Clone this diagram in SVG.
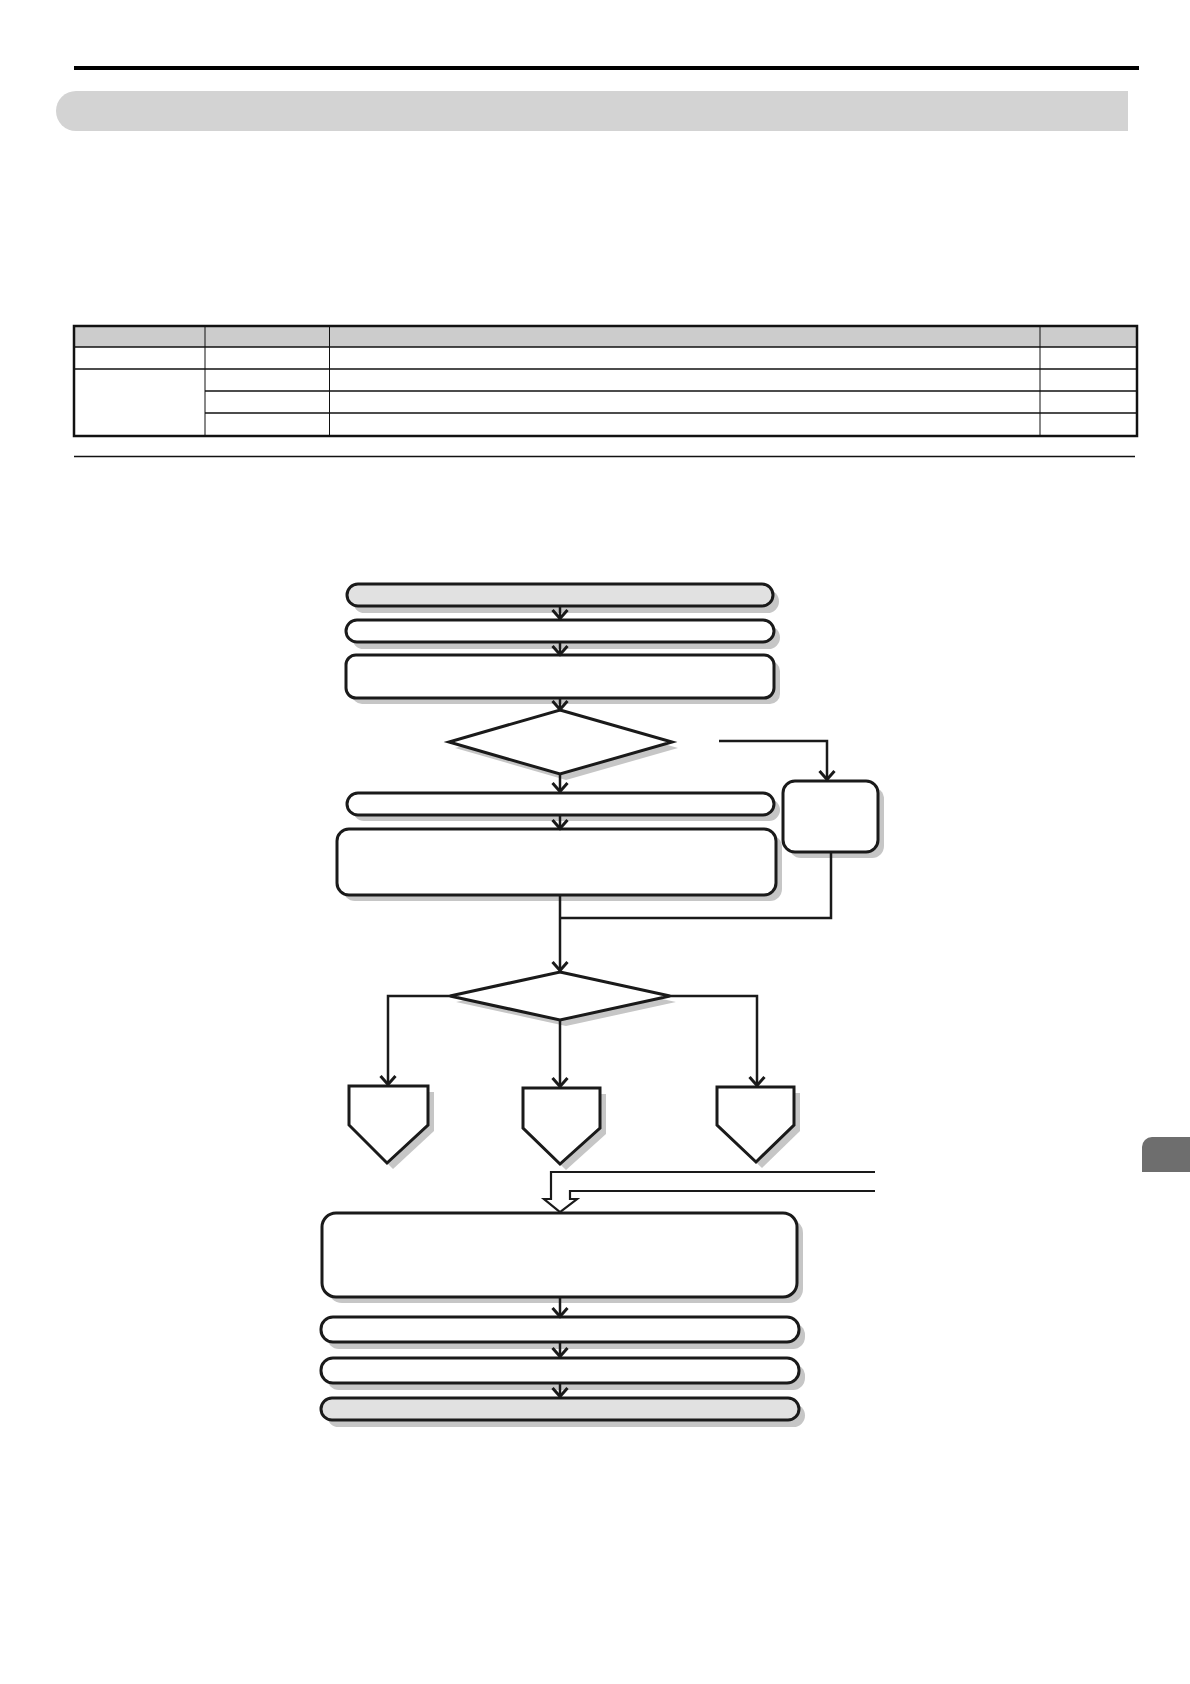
<svg xmlns="http://www.w3.org/2000/svg" width="1190" height="1684" viewBox="0 0 1190 1684">
<style>
.sh{fill:#c6c6c6;stroke:none}
.nd{fill:#ffffff;stroke:#1a1a1a;stroke-width:3}
.gr{fill:#e1e1e1;stroke:#1a1a1a;stroke-width:3}
.cn{fill:none;stroke:#1a1a1a;stroke-width:2.5}
.hl{fill:#ffffff;stroke:#1a1a1a;stroke-width:2.2;stroke-linejoin:miter}
.tb{stroke:#111;fill:none}
</style>
<defs>
<marker id="ah" viewBox="-11 -10 13 20" refX="0.5" refY="0" markerWidth="13" markerHeight="20" markerUnits="userSpaceOnUse" orient="auto">
<path d="M-8.5,-7.5 L0,0 L-8.5,7.5" fill="none" stroke="#1a1a1a" stroke-width="3"/>
</marker>
</defs>
<rect width="1190" height="1684" fill="#ffffff"/>
<g id="header">
<rect x="74" y="66" width="1065" height="4" fill="#000"/>
<path d="M76,91 H1128 V131 H76 A20,20 0 0 1 76,91 Z" fill="#d3d3d3"/>
</g>
<g id="table">
<rect x="74" y="326" width="1064" height="21" fill="#cccccc"/>
<line class="tb" x1="74" y1="347" x2="1138" y2="347" stroke-width="1.6"/>
<line class="tb" x1="74" y1="369" x2="1138" y2="369" stroke-width="1.6"/>
<line class="tb" x1="205" y1="391" x2="1138" y2="391" stroke-width="1.4"/>
<line class="tb" x1="205" y1="413" x2="1138" y2="413" stroke-width="1.4"/>
<line class="tb" x1="205" y1="326" x2="205" y2="436" stroke-width="1"/>
<line class="tb" x1="329.5" y1="326" x2="329.5" y2="436" stroke-width="1"/>
<line class="tb" x1="1040" y1="326" x2="1040" y2="436" stroke-width="1"/>
<rect class="tb" x="74" y="326" width="1063" height="110" stroke-width="2.5"/>
<line class="tb" x1="74" y1="456.5" x2="1135" y2="456.5" stroke-width="1.5"/>
</g>
<g id="side-tab">
<path d="M1152,1137 H1190 V1172 H1142 V1147 A10,10 0 0 1 1152,1137 Z" fill="#6e6e6e"/>
</g>
<g id="n1">
<rect class="sh" x="353" y="590" width="426" height="23" rx="11.5"/>
<rect class="gr" x="347" y="584" width="426" height="22" rx="11"/>
</g>
<g id="n2">
<rect class="sh" x="352" y="626" width="428" height="23" rx="11.5"/>
<rect class="nd" x="346" y="620" width="428" height="22" rx="11"/>
</g>
<g id="n3">
<rect class="sh" x="352" y="661" width="428" height="43" rx="10"/>
<rect class="nd" x="346" y="655" width="428" height="43" rx="10"/>
</g>
<g id="d1">
<polygon class="sh" points="566,716 678,748 566,780 455,748"/>
<polygon class="nd" points="560,710 672,742 560,774 449,742"/>
</g>
<g id="n4">
<rect class="sh" x="353" y="799" width="427" height="22" rx="11"/>
<rect class="nd" x="347" y="793" width="427" height="22" rx="11"/>
</g>
<g id="n5">
<rect class="sh" x="343" y="835" width="439" height="66" rx="12"/>
<rect class="nd" x="337" y="829" width="439" height="66" rx="12"/>
</g>
<g id="n6">
<rect class="sh" x="789" y="787" width="95" height="71" rx="12"/>
<rect class="nd" x="783" y="781" width="95" height="71" rx="12"/>
</g>
<g id="d2">
<polygon class="sh" points="566,978 676,1002 566,1026 456,1002"/>
<polygon class="nd" points="560,972 670,996 560,1020 450,996"/>
</g>
<g id="p1">
<polygon class="sh" points="355,1092 434,1092 434,1131 393,1169 355,1131"/>
<polygon class="nd" points="349,1086 428,1086 428,1125 387,1163 349,1125"/>
</g>
<g id="p2">
<polygon class="sh" points="529,1094 606,1094 606,1134 566,1170 529,1134"/>
<polygon class="nd" points="523,1088 600,1088 600,1128 560,1164 523,1128"/>
</g>
<g id="p3">
<polygon class="sh" points="723,1093 800,1093 800,1131 762,1168 723,1131"/>
<polygon class="nd" points="717,1087 794,1087 794,1125 756,1162 717,1125"/>
</g>
<g id="n7">
<rect class="sh" x="328" y="1219" width="475" height="84" rx="14"/>
<rect class="nd" x="322" y="1213" width="475" height="84" rx="14"/>
</g>
<g id="n8">
<rect class="sh" x="327" y="1323" width="478" height="26" rx="12"/>
<rect class="nd" x="321" y="1317" width="478" height="25" rx="12"/>
</g>
<g id="n9">
<rect class="sh" x="327" y="1364" width="478" height="26" rx="12"/>
<rect class="nd" x="321" y="1358" width="478" height="25" rx="12"/>
</g>
<g id="n10">
<rect class="sh" x="327" y="1404" width="478" height="23" rx="11.5"/>
<rect class="gr" x="321" y="1398" width="478" height="22" rx="11"/>
</g>
<g id="connectors">
<line class="cn" x1="560" y1="607" x2="560" y2="619" marker-end="url(#ah)"/>
<line class="cn" x1="560" y1="643" x2="560" y2="655" marker-end="url(#ah)"/>
<line class="cn" x1="560" y1="699" x2="560" y2="710" marker-end="url(#ah)"/>
<line class="cn" x1="560" y1="775" x2="560" y2="792" marker-end="url(#ah)"/>
<line class="cn" x1="560" y1="816" x2="560" y2="829" marker-end="url(#ah)"/>
<polyline class="cn" points="719,741 827,741 827,780" marker-end="url(#ah)"/>
<line class="cn" x1="560" y1="896" x2="560" y2="971" marker-end="url(#ah)"/>
<polyline class="cn" points="831,853 831,918 560,918"/>
<polyline class="cn" points="450,996 388,996 388,1085" marker-end="url(#ah)"/>
<line class="cn" x1="560" y1="1021" x2="560" y2="1087" marker-end="url(#ah)"/>
<polyline class="cn" points="670,996 757,996 757,1086" marker-end="url(#ah)"/>
<path class="hl" d="M875,1172 H551 V1199 H544 L560,1212 L577,1199 H570 V1191 H875"/>
<line class="cn" x1="560" y1="1298" x2="560" y2="1317" marker-end="url(#ah)"/>
<line class="cn" x1="560" y1="1343" x2="560" y2="1357" marker-end="url(#ah)"/>
<line class="cn" x1="560" y1="1384" x2="560" y2="1397" marker-end="url(#ah)"/>
</g>
</svg>
